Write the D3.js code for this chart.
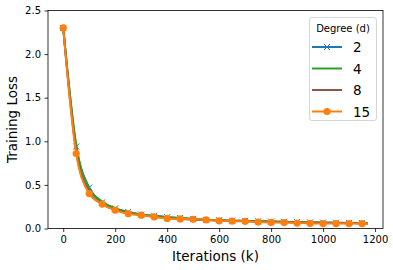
<!DOCTYPE html>
<html><head><meta charset="utf-8">
<script src="https://cdn.jsdelivr.net/npm/d3@7"></script>
<style>body{margin:0;background:#fff}svg{display:block;font-family:"DejaVu Sans",sans-serif}</style>
</head><body><svg id="c" width="393" height="270"></svg>
<script>
const iterations = [0,50,100,150,200,250,300,350,400,450,500,550,600,650,700,750,800,850,900,950,1000,1050,1100,1150,1172];
const loss2  = [2.30,0.94,0.47,0.30,0.23,0.19,0.16,0.145,0.13,0.12,0.11,0.10,0.095,0.09,0.087,0.083,0.08,0.077,0.074,0.07,0.068,0.066,0.064,0.062,0.061];
const loss4  = [2.30,0.96,0.46,0.31,0.23,0.19,0.16,0.145,0.13,0.12,0.11,0.10,0.095,0.09,0.087,0.083,0.08,0.076,0.073,0.07,0.067,0.065,0.063,0.061,0.060];
const loss8  = [2.30,0.88,0.42,0.28,0.215,0.175,0.155,0.135,0.12,0.11,0.10,0.095,0.09,0.086,0.082,0.078,0.075,0.072,0.069,0.066,0.064,0.062,0.060,0.058,0.057];
const loss15 = [2.30,0.86,0.40,0.28,0.21,0.17,0.153,0.133,0.116,0.11,0.105,0.098,0.088,0.085,0.082,0.074,0.07,0.068,0.062,0.059,0.057,0.057,0.056,0.056,0.055];
const seriesNames = ["2","4","8","15"];
const seriesColors = ["#1f77b4","#2ca02c","#8c564b","#ff7f0e"];
const seriesMarkers = ["x","none","none","circle"];
const xTicks = [0,200,400,600,800,1000,1200];
const yTicks = [0,0.5,1.0,1.5,2.0,2.5];
const legendTitle = "Degree (d)";
const xLabel = "Iterations (k)";
const yLabel = "Training Loss";

const allSeries = [loss2, loss4, loss8, loss15];
const svg = d3.select("#c");
const L = 48, R = 383, T = 10.5, B = 228.5;
const x = d3.scaleLinear().domain([-58.6, 1230.6]).range([L, R]);
const y = d3.scaleLinear().domain([0, 2.5]).range([B, T]);

const line = d3.line().x((d,i)=>x(iterations[i])).y(d=>y(d)).curve(d3.curveMonotoneX);
const g = svg.append("g");
allSeries.forEach((s, k) => {
  g.append("path").attr("d", line(s)).attr("fill","none")
    .attr("stroke", seriesColors[k]).attr("stroke-width", 2);
  const pts = s.map((v,i)=>[iterations[i], v]).filter(p => p[0] % 50 === 0);
  if (seriesMarkers[k] === "circle") {
    g.selectAll(null).data(pts).enter().append("circle")
      .attr("cx", p=>x(p[0])).attr("cy", p=>y(p[1])).attr("r", 3.6)
      .attr("fill", seriesColors[k]);
  } else if (seriesMarkers[k] === "x") {
    g.selectAll(null).data(pts).enter().append("path")
      .attr("d", p => { const cx=x(p[0]), cy=y(p[1]), r=3; return `M${cx-r},${cy-r}L${cx+r},${cy+r}M${cx-r},${cy+r}L${cx+r},${cy-r}`; })
      .attr("stroke", seriesColors[k]).attr("stroke-width", 1);
  }
});

// spines
svg.append("rect").attr("x", L).attr("y", T).attr("width", R-L).attr("height", B-T)
  .attr("fill","none").attr("stroke","#000").attr("stroke-width",0.8);

const xa = svg.append("g").attr("transform",`translate(0,${B})`)
  .call(d3.axisBottom(x).tickValues(xTicks).tickSize(3.5).tickPadding(3.5).tickFormat(d3.format("d")));
const ya = svg.append("g").attr("transform",`translate(${L},0)`)
  .call(d3.axisLeft(y).tickValues(yTicks).tickSize(3.5).tickPadding(3.5).tickFormat(d3.format(".1f")));
[xa, ya].forEach(a => {
  a.select(".domain").remove();
  a.selectAll("text").attr("font-size", 10).attr("fill","#000").attr("font-family","DejaVu Sans");
  a.selectAll("line").attr("stroke","#000").attr("stroke-width",0.8);
});

svg.append("text").attr("x", (L+R)/2).attr("y", 261).attr("text-anchor","middle")
  .attr("font-size", 13.5).text(xLabel);
svg.append("text").attr("transform", `translate(17,${(T+B)/2}) rotate(-90)`).attr("text-anchor","middle")
  .attr("font-size", 13.5).text(yLabel);

// legend
const lg = svg.append("g");
lg.append("rect").attr("x", 309.5).attr("y", 17.5).attr("width", 67).attr("height", 103).attr("rx", 2.5)
  .attr("fill","#fff").attr("fill-opacity",0.8).attr("stroke","#ccc").attr("stroke-width",0.8);
lg.append("text").attr("x", 343).attr("y", 32).attr("text-anchor","middle").attr("font-size", 10).text(legendTitle);
seriesNames.forEach((n,k) => {
  const yy = 47 + k*21.5;
  lg.append("line").attr("x1", 312).attr("x2", 342).attr("y1", yy).attr("y2", yy)
    .attr("stroke", seriesColors[k]).attr("stroke-width", 2);
  if (seriesMarkers[k] === "circle") lg.append("circle").attr("cx",327).attr("cy",yy).attr("r",3.6).attr("fill",seriesColors[k]);
  if (seriesMarkers[k] === "x") lg.append("path").attr("d",`M324,${yy-3}L330,${yy+3}M324,${yy+3}L330,${yy-3}`).attr("stroke",seriesColors[k]).attr("stroke-width",1);
  lg.append("text").attr("x", 353).attr("y", yy+5).attr("font-size", 13.5).text(n);
});
</script></body></html>
